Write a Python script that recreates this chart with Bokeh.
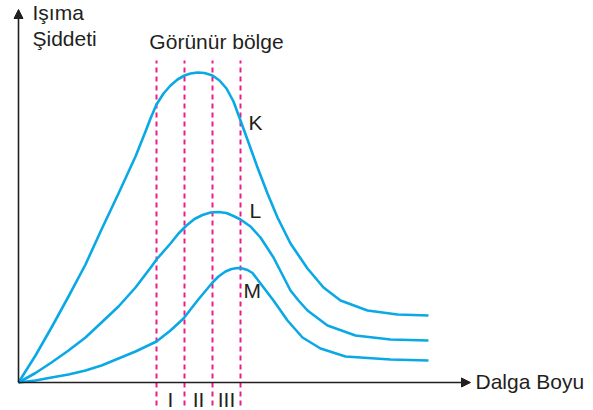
from bokeh.plotting import figure
from bokeh.models import Arrow, NormalHead, Label, Range1d
from bokeh.embed import file_html
from bokeh.resources import INLINE

# Data (wavelength in arbitrary units, intensity in arbitrary units)
k_x = [0, 17, 33, 50, 67, 83, 100, 117, 127, 132, 138, 145, 152, 159, 166, 172, 179, 186, 194, 201, 208, 215, 222,
       230, 239, 249, 259, 272, 289, 305, 322, 349, 379, 410]
k_y = [0, 27, 55, 86, 118, 153, 189, 226, 251, 264, 278, 289, 297, 303, 307, 309, 310, 309.5, 307, 302, 294, 281, 262,
       240, 215, 189, 165, 139, 114, 95, 82, 72, 68, 67]

l_x = [0, 17, 33, 50, 67, 83, 100, 117, 133, 138, 152, 160, 168, 176, 184, 192, 200, 208, 216, 222,
       232, 242, 255, 272, 280, 289, 309, 337, 372, 410]
l_y = [0, 9.5, 20, 32, 45, 60, 76, 95, 116, 123, 139, 149, 157, 163.5, 167.5, 170, 170.5, 169.5, 166, 163,
       156, 145, 125, 92, 82, 72, 57, 47, 43, 42]

m_x = [0, 17, 33, 50, 67, 83, 100, 117, 138, 152, 165, 179, 194, 200, 207, 213, 219, 224, 229, 234,
       242, 255, 269, 284, 302, 327, 372, 410]
m_y = [0, 2, 5, 8, 12, 17, 24, 31, 41, 52, 64, 82, 100, 106, 111, 113.5, 114.5, 114, 112.5, 109.5,
       99, 82, 62, 45, 34, 26, 23, 22]

region_bounds = [138, 166, 194, 222]
region_labels = ["I", "II", "III"]
curve_names = ["K", "L", "M"]

W, H = 593, 410
p = figure(width=W, height=H, output_backend="svg", toolbar_location=None,
           x_axis_type=None, y_axis_type=None, min_border=0,
           x_range=Range1d(-18, W - 18), y_range=Range1d(-28, H - 28))
p.grid.visible = False
p.outline_line_color = None
p.background_fill_color = "white"
p.border_fill_color = "white"

blue = "#0aa9e6"
pink = "#ec1c8c"
ink = "#231f20"
font = "Liberation Sans"

# dashed visible-region boundaries
for b in region_bounds:
    p.line([b, b], [-23, 322], line_color=pink, line_width=2, line_dash="5 4")

# curves
for xs, ys in [(k_x, k_y), (l_x, l_y), (m_x, m_y)]:
    p.line(xs, ys, line_color=blue, line_width=2.6, line_join="round")

# axes with arrows
p.add_layout(Arrow(x_start=0, y_start=0, x_end=0, y_end=373, line_color=ink, line_width=1.6,
                   end=NormalHead(size=9, fill_color=ink, line_color=ink)))
p.add_layout(Arrow(x_start=0, y_start=0, x_end=452, y_end=0, line_color=ink, line_width=1.6,
                   end=NormalHead(size=9, fill_color=ink, line_color=ink)))

def lab(x, y, t, align="left"):
    p.add_layout(Label(x=x, y=y, text=t, text_font=font, text_font_size="21px",
                       text_color=ink, text_align=align, text_baseline="alphabetic"))

lab(14, 370, "Işıma")
lab(14, 344, "Şiddeti")
lab(198, 341, "Görünür bölge", "center")
lab(457, 1, "Dalga Boyu")

# curve labels
for (x, y), name in zip([(230, 260), (231, 172), (225, 92)], curve_names):
    lab(x, y, name)

# region labels between boundaries
for i, t in enumerate(region_labels):
    cx = (region_bounds[i] + region_bounds[i + 1]) / 2
    lab(cx, -17, t, "center")

open("out.html", "w").write(file_html(p, INLINE))
